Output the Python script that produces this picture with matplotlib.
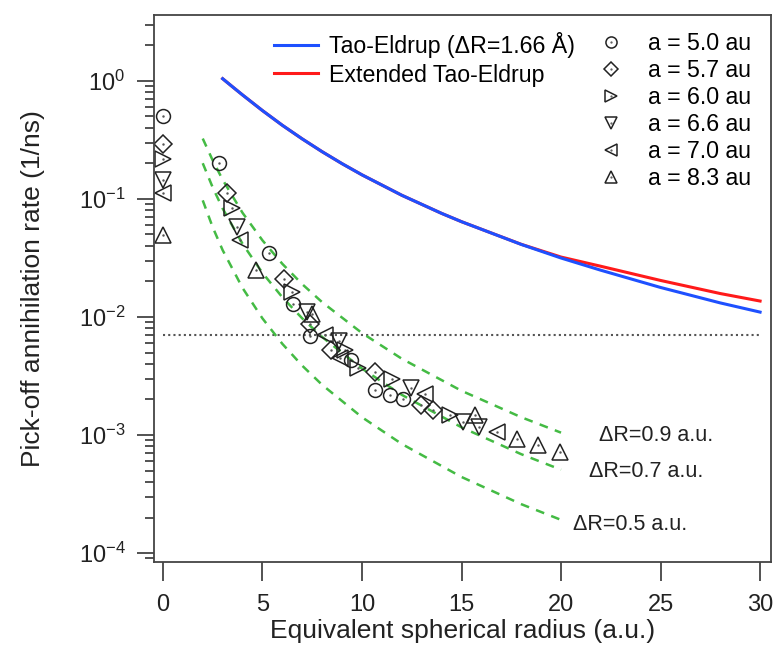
import matplotlib
matplotlib.use("Agg")
import matplotlib.pyplot as plt
from matplotlib.legend_handler import HandlerTuple

plt.rcParams["font.family"] = ["Liberation Sans", "DejaVu Sans"]
plt.rcParams["mathtext.default"] = "regular"

# ── Tao-Eldrup curves ──
te_r = [3, 3.5, 4, 5, 6, 7, 8, 9, 10, 12, 14, 15, 18, 20, 22, 25, 28, 30]
te_blue = [1.045, 0.891, 0.761, 0.561, 0.421, 0.3227, 0.2514, 0.1991, 0.1601,
           0.1075, 0.0755, 0.0642, 0.0412, 0.0316, 0.0249, 0.01779, 0.01316, 0.0110]
te_red = [1.045, 0.891, 0.761, 0.561, 0.421, 0.3227, 0.2514, 0.1991, 0.1601,
          0.1075, 0.0755, 0.0642, 0.0413, 0.0322, 0.0269, 0.0204, 0.0158, 0.01365]

# ── dashed model curves for three ΔR values ──
dr_r = [2, 2.5, 3, 4, 5, 6, 7, 8, 10, 12, 15, 18, 20]
dr_09 = [0.325, 0.2124, 0.1456, 0.0763, 0.0446, 0.0282, 0.01896, 0.01334,
         0.00731, 0.00443, 0.00237, 0.001415, 0.001047]
dr_07 = [0.2008, 0.1253, 0.0830, 0.0417, 0.02364, 0.01469, 0.009727, 0.00677,
         0.003654, 0.00219, 0.001162, 0.000688, 0.000508]
dr_05 = [0.0973, 0.05767, 0.03685, 0.01762, 0.009727, 0.00592, 0.003865, 0.00266,
         0.001415, 0.00084, 0.000441, 0.0002595, 0.000191]
dr_labels = ["ΔR=0.9 a.u.", "ΔR=0.7 a.u.", "ΔR=0.5 a.u."]
dr_label_pos = [(21.9, 1.0e-3), (21.4, 4.9e-4), (20.6, 1.76e-4)]

threshold = 0.00703

# ── simulation points, one series per lattice constant ──
a_labels = ["a = 5.0 au", "a = 5.7 au", "a = 6.0 au", "a = 6.6 au", "a = 7.0 au", "a = 8.3 au"]
a_markers = ["o", "D", ">", "v", "<", "^"]
a_sizes = [10, 9, 11.5, 11.5, 11.5, 11.5]

x_a50 = [0, 2.81, 5.33, 6.55, 7.39, 9.43, 10.65, 11.4, 12.04]
y_a50 = [0.50, 0.202, 0.035, 0.0128, 0.0069, 0.0043, 0.0024, 0.0022, 0.0020]
x_a57 = [0, 3.2, 6.08, 7.39, 8.43, 10.65, 12.95, 13.58]
y_a57 = [0.29, 0.113, 0.0209, 0.0087, 0.00525, 0.00344, 0.0018, 0.00163]
x_a60 = [0, 3.45, 6.47, 9.15, 9.82, 11.49, 14.42]
y_a60 = [0.22, 0.0834, 0.0164, 0.00525, 0.00367, 0.0030, 0.00148]
x_a66 = [0, 3.73, 7.22, 8.84, 12.45, 15.1, 15.9]
y_a66 = [0.145, 0.0575, 0.0111, 0.0063, 0.0025, 0.0013, 0.00118]
x_a70 = [0, 3.87, 8.14, 8.9, 13.17, 16.77]
y_a70 = [0.112, 0.045, 0.00703, 0.0045, 0.00223, 0.00107]
x_a83 = [0, 4.67, 7.5, 15.68, 17.77, 18.86, 19.95]
y_a83 = [0.0495, 0.025, 0.0105, 0.00148, 0.00092, 0.00082, 0.00072]

series_x = [x_a50, x_a57, x_a60, x_a66, x_a70, x_a83]
series_y = [y_a50, y_a57, y_a60, y_a66, y_a70, y_a83]

fig = plt.figure(figsize=(7.8, 6.57), dpi=100)
ax = fig.add_axes([0.1974, 0.1446, 0.7911, 0.8326])

ax.plot([0, 30], [threshold, threshold], color="#555555", linestyle=(0, (1, 1.5)), linewidth=1.5)

for ys in (dr_09, dr_07, dr_05):
    ax.plot(dr_r, ys, color="#44bb44", linestyle=(0, (3.5, 3)), linewidth=1.8)
for (tx, ty), lab in zip(dr_label_pos, dr_labels):
    ax.text(tx, ty, lab, fontsize=15.5, va="center", ha="left", color="#222222")

red_line, = ax.plot(te_r, te_red, color="#ff1a1a", linewidth=2.2)
blue_line, = ax.plot(te_r, te_blue, color="#1e50ff", linewidth=2.2)

marker_handles = []
for xs, ys, m, ms in zip(series_x, series_y, a_markers, a_sizes):
    h, = ax.plot(xs, ys, linestyle="none", marker=m, markersize=ms,
                 markerfacecolor="none", markeredgecolor="#222222", markeredgewidth=1.1)
    d, = ax.plot(xs, ys, linestyle="none", marker=".", markersize=1.5, color="#555555")
    marker_handles.append((h, d))

leg1 = ax.legend([blue_line, red_line], ["Tao-Eldrup (ΔR=1.66 Å)", "Extended Tao-Eldrup"],
                 loc="upper left", bbox_to_anchor=(0.195, 0.968), frameon=False,
                 fontsize=16.7, handlelength=1.9, handletextpad=0.45, labelspacing=0.22,
                 borderpad=0, borderaxespad=0)
ax.add_artist(leg1)
ax.legend(marker_handles, a_labels, handler_map={tuple: HandlerTuple(ndivide=1)},
          loc="upper left", bbox_to_anchor=(0.722, 0.968), frameon=False,
          fontsize=16.7, handlelength=1.0, handletextpad=1.1, labelspacing=0.17,
          borderpad=0, borderaxespad=0, markerscale=0.8)

ax.set_yscale("log")
ax.set_xlim(-0.45, 30.55)
ax.set_ylim(10 ** -4.076, 10 ** 0.559)
ax.set_xticks([0, 5, 10, 15, 20, 25, 30])

for side in ("left", "bottom", "top", "right"):
    ax.spines[side].set_color("#444444")
    ax.spines[side].set_linewidth(1.3)
ax.tick_params(which="both", direction="out", color="#444444", width=1.3,
               labelsize=17, labelcolor="#222222")
ax.tick_params(axis="y", which="major", length=12.5, pad=8)
ax.tick_params(axis="y", which="minor", length=6.5)
ax.tick_params(axis="x", which="major", length=14, pad=9)

ax.set_xlabel("Equivalent spherical radius (a.u.)", fontsize=19, color="#222222", labelpad=2)
ax.set_ylabel("Pick-off annihilation rate (1/ns)", fontsize=19, color="#222222", labelpad=24)

fig.savefig("out.png", dpi=100)
